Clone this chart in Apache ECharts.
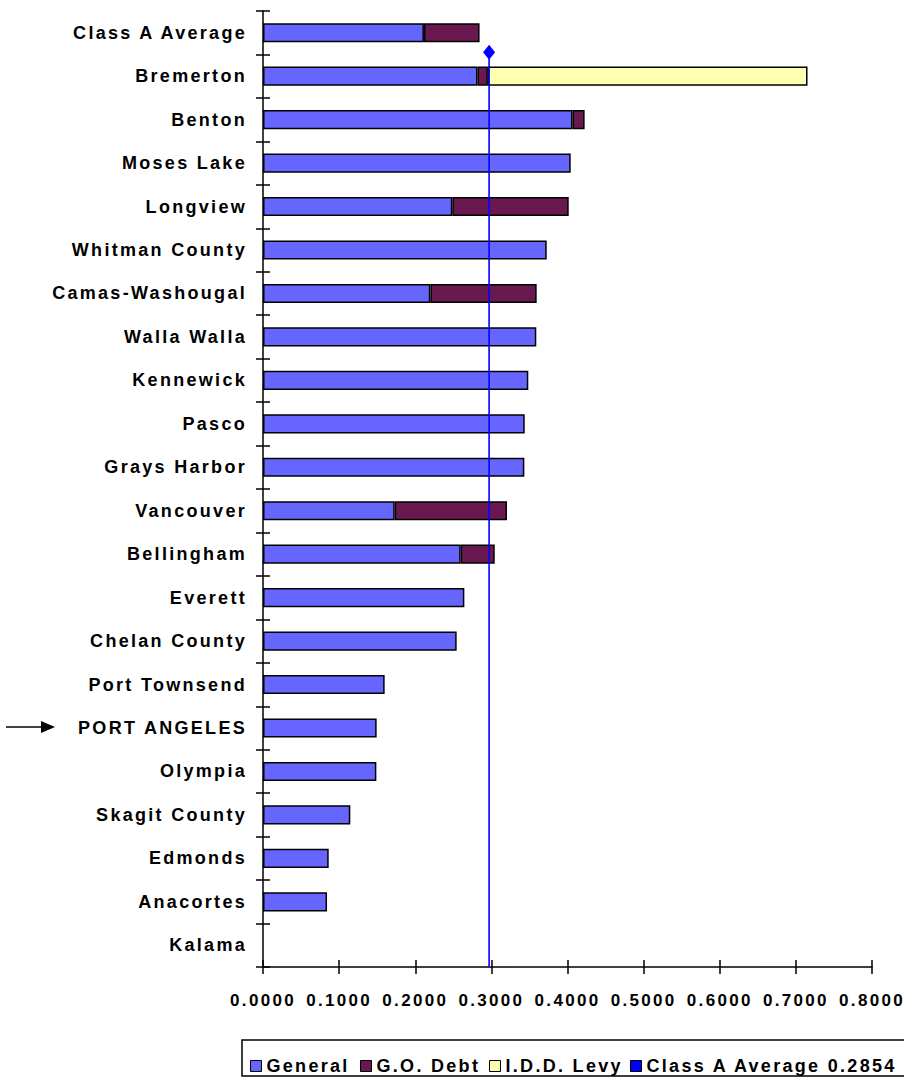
<!DOCTYPE html>
<html>
<head>
<meta charset="utf-8">
<script src="https://cdn.jsdelivr.net/npm/echarts@6/dist/echarts.min.js"></script>
<style>
  html, body { margin: 0; padding: 0; background: #fff; }
  #main { width: 904px; height: 1080px; }
  #main svg text { letter-spacing: 2.3px; }
</style>
</head>
<body>
<div id="main"></div>
<script>
// ---- data ----
var categories = ['Class A Average','Bremerton','Benton','Moses Lake','Longview','Whitman County','Camas-Washougal','Walla Walla','Kennewick','Pasco','Grays Harbor','Vancouver','Bellingham','Everett','Chelan County','Port Townsend','PORT ANGELES','Olympia','Skagit County','Edmonds','Anacortes','Kalama'];
var generalValues = [0.2114, 0.2818, 0.4066, 0.4042, 0.2487, 0.3727, 0.2198, 0.3590, 0.3485, 0.3438, 0.3433, 0.1730, 0.2597, 0.2645, 0.2544, 0.1598, 0.1493, 0.1489, 0.1147, 0.0863, 0.0841, null];
var goDebtValues  = [0.0731, 0.0136, 0.0159, null, 0.1529, null, 0.1397, null, null, null, null, 0.1475, 0.0447, null, null, null, null, null, null, null, null, null];
var iddLevyValues = [null, 0.4199, null, null, null, null, null, null, null, null, null, null, null, null, null, null, null, null, null, null, null, null];
var classAverageLabel = 'Class A Average 0.2854';
var classAverageLineX = 0.297;          // where the average line sits on the x scale
var classAverageLineSpan = [0, 21.05];  // vertical extent of the line on the helper axis (0..22 bands)
var xTicks = [0, 0.1, 0.2, 0.3, 0.4, 0.5, 0.6, 0.7, 0.8];
var seriesNames = ['General', 'G.O. Debt', 'I.D.D. Levy', classAverageLabel];

var FONT = "'Liberation Sans', Arial, sans-serif";
var chart = echarts.init(document.getElementById('main'), null, {renderer: 'svg'});

var xMin = xTicks[0], xMax = xTicks[xTicks.length - 1], xInt = xTicks[1] - xTicks[0];
var barBase = {
  type: 'bar', stack: 'total', xAxisIndex: 0, yAxisIndex: 0,
  barCategoryGap: '56%', silent: true,
  itemStyle: {borderColor: '#000', borderWidth: 1.5}
};

var legendCommon = {
  orient: 'horizontal', top: 1052, itemWidth: 11, itemHeight: 11, icon: 'rect',
  selectedMode: false,
  textStyle: {color: '#000', fontSize: 18, fontWeight: 'bold', fontFamily: FONT},
  itemStyle: {borderColor: '#000', borderWidth: 1}
};

chart.setOption({
  animation: false,
  backgroundColor: '#fff',
  grid: {left: 263, right: 32, top: 11, bottom: 113, containLabel: false},
  xAxis: [
    {
      type: 'value', min: xMin, max: xMax, interval: xInt, position: 'bottom',
      axisLine: {show: true, onZero: false, lineStyle: {color: '#000', width: 1.5}},
      axisTick: {show: true, length: 7, lineStyle: {color: '#000', width: 1.5}},
      axisLabel: {color: '#000', fontSize: 17, fontWeight: 'bold', fontFamily: FONT, margin: 25,
        formatter: function (v) { return v.toFixed(4); }},
      splitLine: {show: false}
    },
    {
      type: 'value', min: xMin, max: xMax, interval: xInt, position: 'bottom',
      axisLine: {show: false, onZero: false},
      axisTick: {show: true, inside: true, length: 7, lineStyle: {color: '#000', width: 1.5}},
      axisLabel: {show: false}, splitLine: {show: false}
    }
  ],
  yAxis: [
    {
      type: 'category', data: categories, inverse: true, position: 'left',
      axisLine: {show: true, onZero: false, lineStyle: {color: '#000', width: 1.5}},
      axisTick: {show: true, length: 7, lineStyle: {color: '#000', width: 1.5}},
      axisLabel: {color: '#000', fontSize: 18, fontWeight: 'bold', fontFamily: FONT, margin: 16}
    },
    {
      type: 'value', min: 0, max: categories.length, show: false
    },
    {
      type: 'category', data: categories, inverse: true, position: 'left',
      axisLine: {show: false, onZero: false},
      axisTick: {show: true, inside: true, length: 7, lineStyle: {color: '#000', width: 1.5}},
      axisLabel: {show: false}
    }
  ],
  legend: [
    Object.assign({}, legendCommon, {left: 245, data: [seriesNames[0]]}),
    Object.assign({}, legendCommon, {left: 355, data: [seriesNames[1]]}),
    Object.assign({}, legendCommon, {left: 484, data: [seriesNames[2]]}),
    Object.assign({}, legendCommon, {left: 625, data: [seriesNames[3]],
      itemStyle: {color: '#0000FF', borderColor: '#000', borderWidth: 1}})
  ],
  graphic: [
    {type: 'rect', shape: {x: 242, y: 1040, width: 680, height: 36},
     style: {fill: 'none', stroke: '#000', lineWidth: 1.5}, silent: true, z: -1},
    {type: 'line', shape: {x1: 6, y1: 727, x2: 44, y2: 727},
     style: {stroke: '#000', lineWidth: 1.5}, silent: true},
    {type: 'polygon', shape: {points: [[41, 721], [55, 727], [41, 733]]},
     style: {fill: '#000'}, silent: true}
  ],
  series: [
    Object.assign({}, barBase, {name: seriesNames[0], data: generalValues,
      itemStyle: {color: '#6666FF', borderColor: '#000', borderWidth: 1.5}}),
    Object.assign({}, barBase, {name: seriesNames[1], data: goDebtValues,
      itemStyle: {color: '#6A1850', borderColor: '#000', borderWidth: 1.5}}),
    Object.assign({}, barBase, {name: seriesNames[2], data: iddLevyValues,
      itemStyle: {color: '#FFFFB0', borderColor: '#000', borderWidth: 1.5}}),
    {
      name: seriesNames[3], type: 'line', xAxisIndex: 0, yAxisIndex: 1, silent: true,
      lineStyle: {color: '#0000FF', width: 1.6},
      itemStyle: {color: '#0000FF'},
      data: [
        {value: [classAverageLineX, classAverageLineSpan[0]], symbol: 'none'},
        {value: [classAverageLineX, classAverageLineSpan[1]], symbol: 'diamond', symbolSize: [12, 15]}
      ],
      z: 5
    }
  ]
});
</script>
</body>
</html>
